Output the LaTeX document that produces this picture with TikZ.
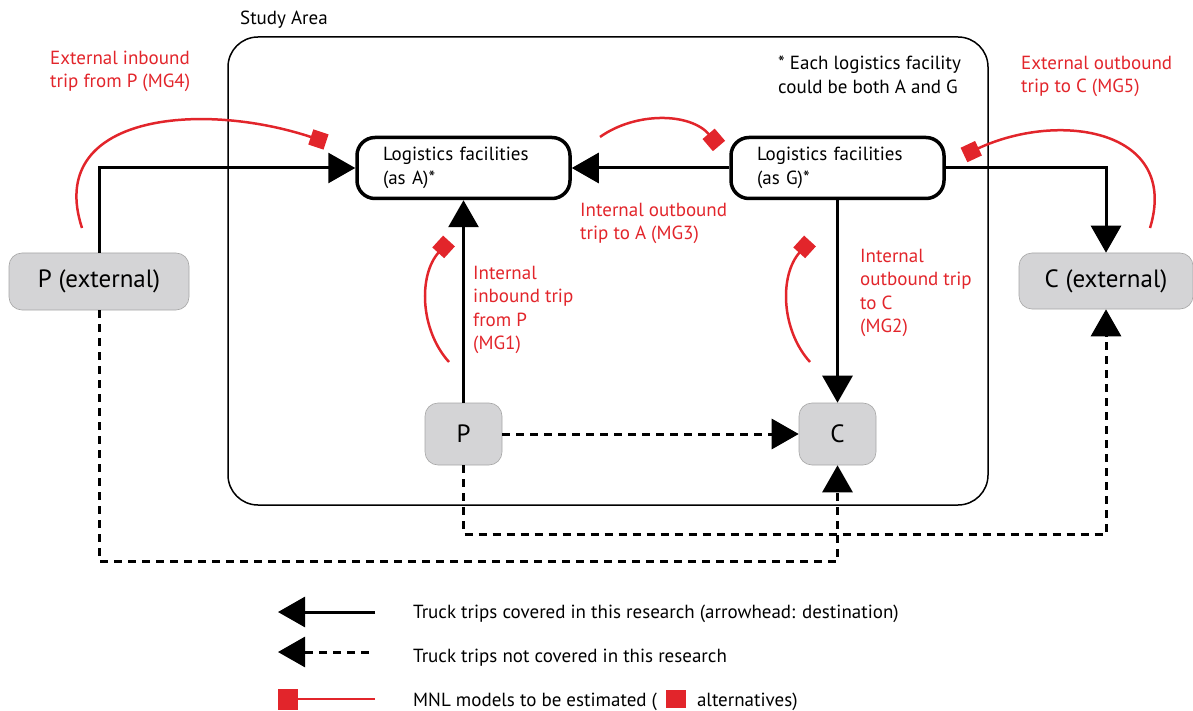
\documentclass[tikz,border=0pt]{standalone}
\usepackage{fontspec}
\setmainfont{PT Sans}
\usepackage{tikz}
\usetikzlibrary{positioning,arrows.meta}
\definecolor{mnlred}{RGB}{226,37,43}
\definecolor{boxgray}{RGB}{212,212,214}
\newcommand{\txt}{\fontsize{19}{23.3}\selectfont}
\newcommand{\bigtxt}{\fontsize{25}{28}\selectfont}

\tikzset{
  facility/.style={draw, line width=3.5pt, rounded corners=18pt, minimum height=61pt,
    text width=161pt, inner xsep=26pt, align=left, font=\txt},
  place/.style={fill=boxgray, draw=black!35, line width=0.6pt, rounded corners=13pt, font=\bigtxt},
  trip/.style={line width=3pt, -{Triangle[length=27pt,width=30pt]}},
  nottrip/.style={trip, dash pattern=on 8pt off 6pt},
  mnl/.style={mnlred, line width=2.5pt, -{Square[length=16pt,width=16pt]}},
  note/.style={anchor=north west, inner sep=0pt, align=left, font=\txt},
  redtext/.style={note, text=mnlred},
  legend/.style={anchor=base west, inner sep=0pt, font=\txt}
}

\begin{document}
\begin{tikzpicture}[x=1pt, y=-1pt]
  \useasboundingbox (0,0) rectangle (1193,711);

  \node[draw, line width=1.5pt, rounded corners=30pt, minimum width=760pt, minimum height=468pt] (study) at (608,271) {};
  \node[legend] (studyname) at (240,25) {Study Area};
  \node[note] (remark) at (778,56) {* Each logistics facility\\could be both A and G};

  \node[facility] (A) at (463.5,168) {Logistics facilities\\(as A)*};
  \node[facility] (G) at (837.5,168) {Logistics facilities\\(as G)*};
  \node[place, minimum width=180pt, minimum height=57pt] (Pex) at (99,281.5) {P (external)};
  \node[place, minimum width=174pt, minimum height=56pt] (Cex) at (1106,281) {C (external)};
  \node[place, minimum width=77pt, minimum height=62pt] (Pin) at (463.5,434) {P};
  \node[place, minimum width=77pt, minimum height=62pt] (Cin) at (837.5,434) {C};

  \draw[trip] (Pex.north) |- (A.west);
  \draw[trip] (G.west) -- (A.east);
  \draw[trip] (Pin.north) -- (A.south);
  \draw[trip] (G.south) -- (Cin.north);
  \draw[trip] (G.east) -| (Cex.north);
  \draw[nottrip] (Pin.east) -- (Cin.west);
  \draw[nottrip] (Pex.south) -- ++(0,251) -| (Cin.south);
  \draw[nottrip] (Pin.south) -- ++(0,69) -| (Cex.south);

  \node[redtext] (mg4) at (50,51) {External inbound\\trip from P (MG4)};
  \node[redtext] (mg5) at (1021,56) {External outbound\\trip to C (MG5)};
  \node[redtext] (mg3) at (580,203) {Internal outbound\\trip to A (MG3)};
  \node[redtext] (mg1) at (473,266) {Internal\\inbound trip\\from P\\(MG1)};
  \node[redtext] (mg2) at (860,249) {Internal\\outbound trip\\to C\\(MG2)};

  \draw[mnl] (82,228) .. controls (45,115) and (200,100) .. (326,142);
  \draw[mnl] (600,137) .. controls (635,112) and (690,112) .. (719,146);
  \draw[mnl] (1150,228) .. controls (1180,130) and (1060,110) .. (964,155);
  \draw[mnl] (449,362) .. controls (420,330) and (418,275) .. (449,241);
  \draw[mnl] (810,362) .. controls (781,330) and (779,275) .. (810,241);

  \node[legend] (leg1) at (413,618) {Truck trips covered in this research (arrowhead: destination)};
  \node[legend] (leg2) at (413,662) {Truck trips not covered in this research};
  \node[legend] (leg3) at (413,706) {MNL models to be estimated (\hspace{9pt}\textcolor{mnlred}{\rule[-2pt]{20pt}{18pt}}\hspace{11pt}alternatives)};
  \draw[trip] ([shift={(-38,-6)}]leg1.base west) -- ++(-97,0);
  \draw[nottrip] ([shift={(-44,-10)}]leg2.base west) -- ++(-91,0);
  \draw[mnl, -{Square[length=20pt,width=21pt]}] ([shift={(-38,-7)}]leg3.base west) -- ++(-97,0);
\end{tikzpicture}
\end{document}
